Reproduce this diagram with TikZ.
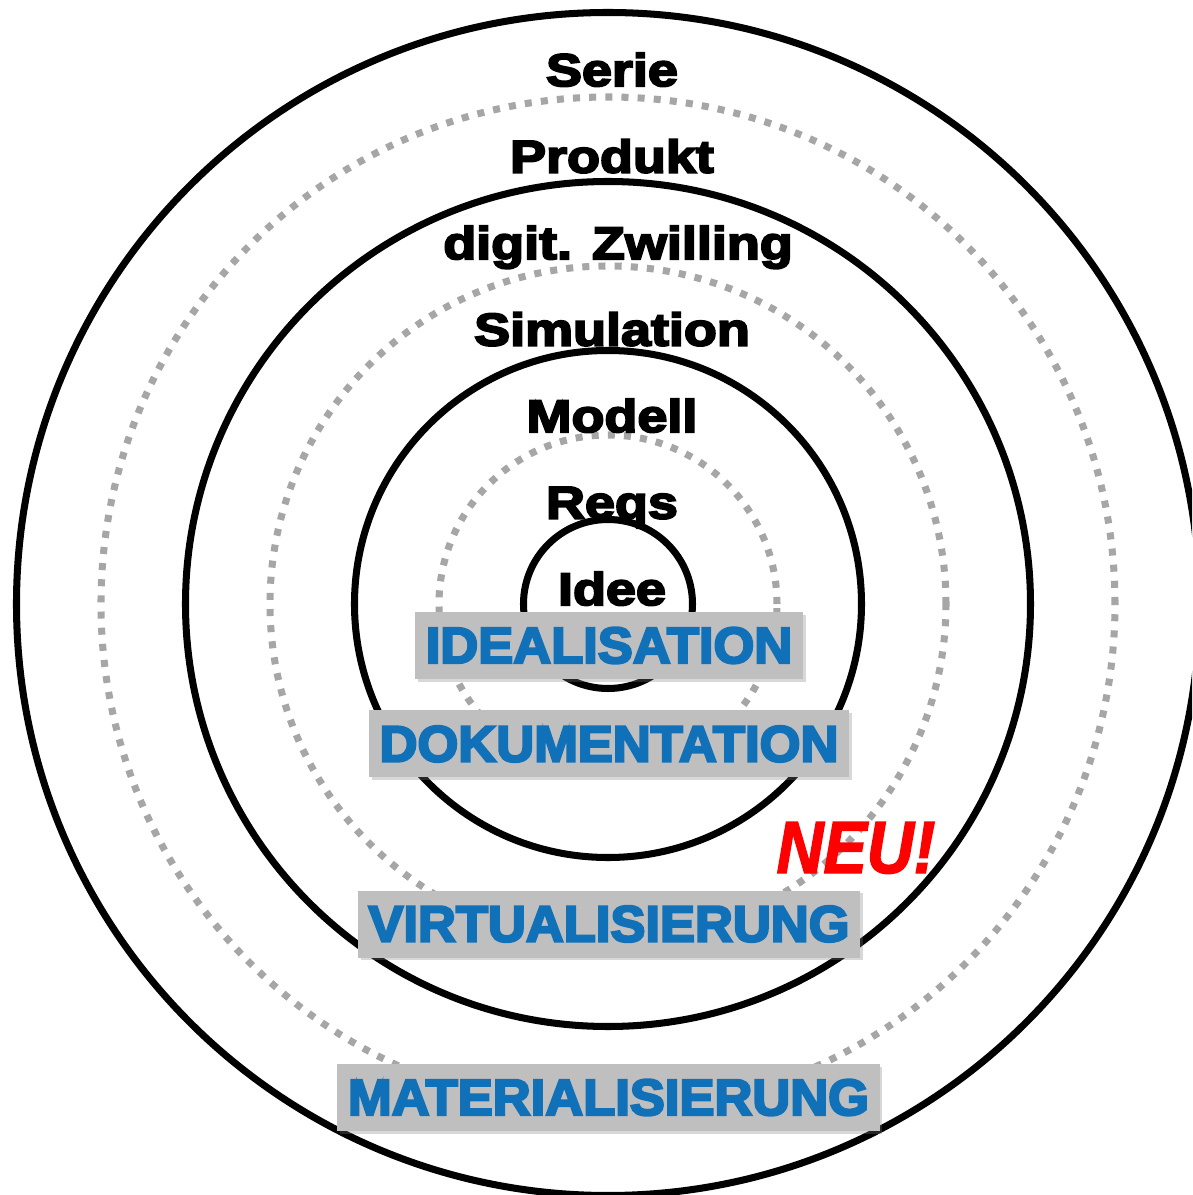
\documentclass[tikz,border=0pt]{standalone}
\usepackage{fontspec}
\usepackage{tikz}
\usetikzlibrary{shadows}
\newfontfamily\ringfont{Liberation Sans Bold}[FakeStretch=1.18, FakeBold=4.5]
\newfontfamily\phasefont{Liberation Sans Bold}[FakeStretch=1.03, FakeBold=4.5]
\newfontfamily\neufont{Liberation Sans Bold Italic}[FakeStretch=0.88, FakeBold=2]
\definecolor{pblue}{RGB}{16, 112, 184}
\definecolor{pgray}{RGB}{191, 191, 191}
\definecolor{dgray}{RGB}{166, 166, 166}
\definecolor{nred}{RGB}{255, 0, 0}
\tikzset{ring/.style = {line width = 2pt},
  dotring/.style = {dgray, line width = 2pt, dash pattern = on 2pt off 2.6pt},
  ringlabel/.style = {anchor = base, inner sep = 0, font = \ringfont\fontsize{13pt}{13pt}\selectfont},
  phase/.style = {fill = pgray, text = pblue, inner xsep = 3pt, minimum height = 0.67cm,
    font = \phasefont\fontsize{14.5pt}{14.5pt}\selectfont,
    drop shadow = {shadow xshift = 0.8pt, shadow yshift = -0.8pt, opacity = 0.3}}}

\begin{document}
\begin{tikzpicture}
    \useasboundingbox (-6.08, -5.91) rectangle (5.84, 6.04);
    \clip (-6.08, -5.91) rectangle (5.84, 6.04);
    \fill [white] (-6.08, -5.91) rectangle (5.84, 6.04);

    % rings, inside out
    \draw [ring] (0, 0) circle (0.845);
    \draw [dotring] (0, 0) circle (1.69);
    \draw [ring] (0, 0) circle (2.535);
    \draw [dotring] (0, 0) circle (3.38);
    \draw [ring] (0, 0) circle (4.225);
    \draw [dotring] (0, 0) circle (5.07);
    \draw [ring] (0, 0) circle (5.915);

    \node [ringlabel] (idee) at (0.04, -0.01) {Idee};
    \node [ringlabel] (reqs) at (0.04, 0.855) {Reqs};
    \node [ringlabel] (modell) at (0.04, 1.72) {Modell};
    \node [ringlabel] (simulation) at (0.04, 2.585) {Simulation};
    \node [ringlabel] (zwilling) at (0.1, 3.45) {digit. Zwilling};
    \node [ringlabel] (produkt) at (0.04, 4.315) {Produkt};
    \node [ringlabel] (serie) at (0.04, 5.18) {Serie};

    \node [phase] (idealisation) at (0.01, -0.415) {IDEALISATION};
    \node [phase] (dokumentation) at (0.01, -1.40) {DOKUMENTATION};
    \node [phase] (virtualisierung) at (0.01, -3.20) {VIRTUALISIERUNG};
    \node [phase] (materialisierung) at (0.005, -4.935) {MATERIALISIERUNG};

    \node [anchor = base, inner sep = 0, text = nred, font = \neufont\fontsize{21pt}{21pt}\selectfont] (neu) at (2.48, -2.69) {NEU!};
  \end{tikzpicture}
\end{document}
